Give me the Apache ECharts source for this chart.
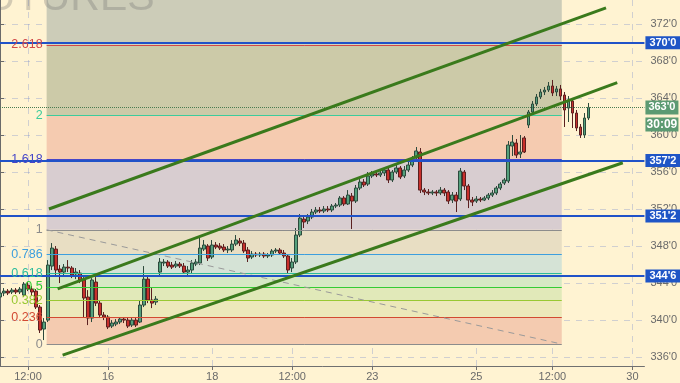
<!DOCTYPE html>
<html><head><meta charset="utf-8">
<script src="https://cdn.jsdelivr.net/npm/echarts@6/dist/echarts.min.js"></script>
<style>html,body{margin:0;padding:0;background:#fff3d2}#c{width:680px;height:383px}</style>
</head><body><div id="c"></div>
<script>
// ---------- data ----------
const slotCount = 162;
const xTickIndex = [7, 27, 53, 73, 93, 119, 138, 158];
const xTickLabels = ['12:00', '16', '18', '12:00', '23', '25', '12:00', '30'];
const yTicks = [336, 340, 344, 348, 352, 356, 360, 364, 368, 372];
const yMin = 335.0, yMax = 374.63;

const opens = [
342.47,342.90,343.11,343.01,343.22,343.01,342.68,343.76,343.33,343.11,
341.38,339.00,339.97,345.82,347.66,345.50,345.17,345.71,345.61,344.96,
345.06,344.31,342.47,340.19,344.09,341.81,340.52,340.30,339.32,339.54,
339.76,340.08,339.97,339.43,339.97,339.76,341.60,344.41,342.14,341.92,
345.17,346.15,346.26,345.93,345.82,346.04,345.82,345.17,345.39,346.04,
346.15,347.66,347.99,346.80,348.10,347.99,347.88,347.56,347.56,348.20,
348.53,348.31,347.56,346.80,347.12,347.02,347.12,346.91,347.02,347.45,
347.56,347.23,346.91,345.61,346.26,349.18,350.91,350.70,351.13,351.67,
351.89,351.78,352.00,351.89,352.32,352.43,353.19,352.54,353.40,352.86,
354.27,354.92,354.70,355.57,355.79,355.68,355.90,356.22,355.14,356.00,
356.44,355.57,356.22,356.76,357.52,358.17,354.05,353.84,353.73,353.84,
353.73,354.05,353.84,352.97,353.51,353.08,356.00,354.49,352.97,352.86,
353.08,352.97,353.19,353.51,353.73,354.27,354.81,355.03,358.82,359.14,
357.95,359.69,361.09,362.50,363.37,364.13,364.67,364.88,365.32,364.67,
365.00,364.34,362.93,363.69,362.39,360.88,360.01,361.85];
const closes = [
342.90,343.11,342.90,343.22,343.01,343.33,343.87,343.33,343.01,341.38,
338.89,339.76,345.93,347.77,345.39,345.17,345.71,345.61,344.85,345.17,
344.31,342.36,340.19,344.31,341.81,340.52,340.30,339.22,339.65,339.76,
340.08,339.97,339.32,339.97,339.43,341.60,344.41,342.14,341.81,342.25,
346.26,346.26,345.82,345.71,346.04,345.82,345.17,345.39,346.15,346.26,
347.77,348.10,346.69,348.10,347.88,347.77,347.56,347.66,348.20,348.64,
348.31,347.45,346.69,347.12,347.02,347.12,346.91,347.02,347.45,347.56,
347.23,346.91,345.39,346.26,349.18,351.02,350.59,351.13,351.67,351.89,
351.78,352.00,351.89,352.32,352.43,353.19,352.54,353.51,352.86,354.27,
354.92,354.60,355.57,355.79,355.68,355.90,356.22,355.14,356.00,356.44,
355.46,356.22,356.76,357.41,358.28,354.05,353.84,353.73,353.84,353.73,
354.05,353.73,352.86,353.51,352.86,356.11,354.49,352.97,352.75,353.08,
352.97,353.19,353.51,353.73,354.27,354.70,355.14,358.93,359.25,357.84,
358.17,358.17,362.50,363.37,364.13,364.67,364.88,365.32,364.56,365.00,
364.23,362.72,363.80,362.39,360.77,360.01,361.85,363.00];
const lows = [
341.60,342.57,342.68,342.79,342.79,342.79,342.47,343.11,342.57,341.17,
338.57,337.81,339.76,345.39,344.85,343.98,344.74,345.17,344.52,344.41,
343.98,340.30,339.43,339.76,341.49,340.19,339.97,339.00,339.11,339.32,
339.54,339.65,339.11,339.22,339.22,339.65,341.38,341.81,341.27,341.60,
344.85,345.82,345.61,345.50,345.61,345.61,344.96,344.85,345.06,345.82,
345.93,347.45,346.37,346.58,347.66,347.56,347.34,347.23,347.34,347.99,
347.99,347.23,346.26,346.58,346.80,346.80,346.69,346.69,346.80,347.23,
347.02,346.69,345.06,345.17,346.04,348.96,349.94,350.37,350.91,351.45,
351.56,351.56,351.67,351.67,352.10,352.21,352.32,352.43,349.83,352.65,
354.05,354.38,354.49,355.35,355.46,355.46,355.57,354.81,354.92,355.79,
355.24,355.35,356.00,356.54,357.30,353.73,353.51,353.51,353.51,353.40,
353.51,353.40,352.54,352.65,351.67,352.86,354.05,352.10,352.32,352.65,
352.75,352.86,352.97,353.30,353.51,354.05,354.60,354.81,357.74,357.52,
357.52,358.06,360.77,362.28,363.15,363.91,364.34,364.67,364.23,364.23,
363.80,360.88,361.42,360.77,360.44,359.69,359.69,361.63];
const highs = [
343.22,343.44,343.33,343.44,343.44,343.55,344.09,344.09,343.66,343.33,
341.60,340.19,346.47,348.31,347.99,345.93,346.04,346.47,345.82,345.61,
345.39,344.63,343.22,344.52,344.63,342.14,340.84,340.52,339.97,340.08,
340.30,340.30,340.30,340.19,340.30,342.14,345.82,344.74,343.44,342.57,
346.69,346.58,346.47,346.26,346.37,346.26,346.15,345.82,346.47,346.58,
348.86,348.64,348.20,348.64,348.42,348.31,348.20,347.99,348.64,349.18,
348.86,348.64,347.88,347.45,347.34,347.34,347.34,347.23,347.66,347.77,
347.77,347.56,347.12,346.69,349.94,351.45,351.35,351.45,352.00,352.21,
352.21,352.32,352.32,352.54,352.65,353.40,353.40,354.05,353.73,354.60,
355.24,355.24,356.00,356.11,356.11,356.22,356.54,356.44,356.22,356.76,
356.65,356.65,357.09,357.74,358.71,358.60,354.27,354.16,354.05,354.05,
354.38,354.27,354.05,353.84,353.84,356.44,356.22,354.70,353.30,353.40,
353.30,353.40,353.73,354.05,354.49,354.92,355.35,359.36,360.01,359.58,
360.01,359.90,362.72,363.69,364.45,365.00,365.21,365.75,365.97,365.32,
365.43,364.67,364.23,364.02,362.72,361.20,362.39,363.48];

// Fibonacci tool
const fibX = [11.65, 140.35];
const fibLow = 337.375, fibHigh = 349.75;
const fibLevels = [0, 0.236, 0.382, 0.5, 0.618, 0.786, 1, 1.618, 2, 2.618];
const fibLabels = ['0', '0.236', '0.382', '0.5', '0.618', '0.786', '1', '1.618', '2', '2.618'];
const fibLineColors = ['#8c8c8c', '#d24a32', '#98c832', '#34cc34', '#2cbc9c', '#3c9ede', '#8c8c8c', '#4646c8', '#3ccc9c', '#d24848'];
const fibFillColors = ['#f4cbb0', '#ece8ba', '#e1e9b9', '#d6e9c4', '#d5e3d6', '#e8dec3', '#d8cdd0', '#f5cbb0', '#cccaa8', '#ccccb8'];

// horizontal levels, current price
const levelPrices = [370, 357.25, 351.25, 344.75];
const lastPrice = 363;
const timerText = '30:09';

// channel trend lines [index, price]
const channelUpper = [[12.23, 352.0], [151.4, 373.77]];
const channelMiddle = [[14.40, 343.36], [154.2, 365.68]];
const channelLower = [[15.65, 336.18], [155.6, 357.01]];

// ---------- build ----------
const fmt8 = p => { const f = Math.floor(p + 1e-9); return f + "'" + Math.round((p - f) * 8); };
const cats = Array.from({length: slotCount}, (_, i) => String(i));
const labelAt = {};
xTickIndex.forEach((ix, k) => labelAt[ix] = xTickLabels[k]);
const isTick = (i) => labelAt[i] !== undefined;
const candleData = opens.map((o, i) => [o, closes[i], lows[i], highs[i]]);
const fibPrice = lv => fibLow + lv * (fibHigh - fibLow);

const areas = [];
for (let k = 0; k < fibLevels.length; k++) {
  const y0 = fibPrice(fibLevels[k]);
  const y1 = k + 1 < fibLevels.length ? fibPrice(fibLevels[k + 1]) : yMax;
  areas.push([{coord: [fibX[0], y0], itemStyle: {color: fibFillColors[k], opacity: 1}}, {coord: [fibX[1], y1]}]);
}
const fibLines = fibLevels.map((lv, k) => [
  {coord: [fibX[0], fibPrice(lv)], lineStyle: {color: fibLineColors[k], width: 1, type: 'solid'},
   label: {show: true, position: 'start', distance: 4, formatter: fibLabels[k], color: fibLineColors[k], fontSize: 12.5}},
  {coord: [fibX[1], fibPrice(lv)]}
]);
fibLines.push([
  {coord: [fibX[0], fibHigh], lineStyle: {color: '#9a9a9a', width: 1, type: [6, 5]}, label: {show: false}},
  {coord: [fibX[1], fibLow]}
]);

const blueLines = levelPrices.map(p => ({
  yAxis: p, lineStyle: {color: '#2052c8', width: 2, type: 'solid'},
  label: {show: true, position: 'end', distance: 1, formatter: '{a|' + fmt8(p) + '}',
    rich: {a: {backgroundColor: '#1f55c6', color: '#fff', fontWeight: 'bold', fontSize: 11, width: 33, align: 'center', padding: [1, 1], lineHeight: 12}}}
}));
const priceLine = {
  yAxis: lastPrice, lineStyle: {color: '#4a7c52', width: 1, type: 'dotted'},
  label: {show: true, position: 'end', distance: 1,
    formatter: '{e| }\n{a|' + fmt8(lastPrice) + '}\n{g| }\n{b|' + timerText + '}',
    rich: {
      e: {height: 17, lineHeight: 17, fontSize: 1},
      g: {height: 3, lineHeight: 3, fontSize: 1},
      a: {backgroundColor: '#5c9a72', color: '#fff', fontWeight: 'bold', fontSize: 11, width: 33, align: 'center', height: 14, lineHeight: 14},
      b: {backgroundColor: '#5c9a72', color: '#fff', fontWeight: 'bold', fontSize: 12, width: 33, align: 'center', height: 14, lineHeight: 14}
    }}
};

const chLine = (d) => ({
  type: 'line', xAxisIndex: 1, yAxisIndex: 0, data: d, symbol: 'none', silent: true, z: 6,
  lineStyle: {color: '#3a7a1c', width: 3}, animation: false
});

const chart = echarts.init(document.getElementById('c'), null, {renderer: 'canvas'});
chart.setOption({
  animation: false,
  backgroundColor: '#fff3d2',
  textStyle: {fontFamily: 'Liberation Sans'},
  graphic: [{type: 'text', x: -39, y: -22, z: 100, silent: true,
    style: {text: 'FUTURES', font: '41px "Liberation Sans"', fill: 'rgba(110,110,110,0.3)'}}],
  grid: {left: 0, right: 35, top: 0, bottom: 17, containLabel: false},
  xAxis: [{
    type: 'category', data: cats, boundaryGap: false,
    axisLine: {lineStyle: {color: '#707070', width: 1}},
    axisTick: {interval: (i) => isTick(i), length: 4, lineStyle: {color: '#707070'}},
    axisLabel: {interval: (i) => isTick(i), formatter: (v, i) => labelAt[+v] || '', color: '#6a6a6a', fontSize: 11, margin: 5},
    splitLine: {show: true, interval: (i) => isTick(i), lineStyle: {color: 'rgba(120,140,205,0.35)', type: [6, 6], width: 1}}
  }, {
    type: 'value', min: 0, max: slotCount - 1, show: false, splitLine: {show: false}
  }],
  yAxis: [{
    type: 'value', position: 'right', min: yMin, max: yMax, scale: true,
    axisLine: {show: true, lineStyle: {color: '#6a6a6a'}},
    axisTick: {show: true, length: 4, customValues: yTicks, lineStyle: {color: '#6a6a6a'}},
    axisLabel: {customValues: yTicks, formatter: v => fmt8(v), color: '#6a6a6a', fontSize: 11, margin: 6},
    splitLine: {show: true, lineStyle: {color: 'rgba(120,140,205,0.35)', type: [6, 6], width: 1}}
  }],
  series: [
    {type: 'line', xAxisIndex: 1, yAxisIndex: 0, data: [], z: 1, silent: true,
     markArea: {silent: true, data: areas},
     markLine: {silent: true, symbol: 'none', data: fibLines, animation: false}},
    {type: 'candlestick', xAxisIndex: 0, yAxisIndex: 0, data: candleData, z: 3, barWidth: 3.2,
     itemStyle: {color: '#55a07c', color0: '#c8302c', borderColor: '#2c4a3c', borderColor0: '#5a2020', borderWidth: 1}},
    {type: 'line', xAxisIndex: 1, yAxisIndex: 0, data: [], z: 5, silent: true,
     markLine: {silent: true, symbol: 'none', data: blueLines.concat([priceLine]), animation: false}},
    chLine(channelUpper), chLine(channelMiddle), chLine(channelLower)
  ]
});
</script></body></html>
